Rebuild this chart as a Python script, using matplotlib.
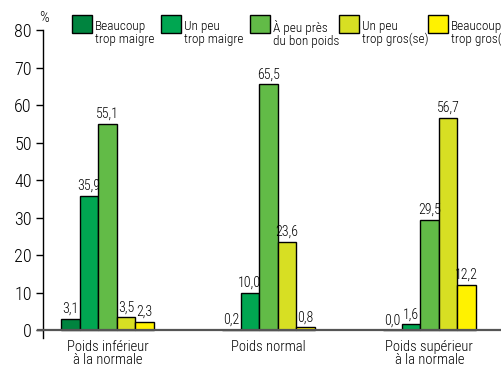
import matplotlib
matplotlib.use('Agg')
import matplotlib.pyplot as plt
from matplotlib.patches import Rectangle
import numpy as np

plt.rcParams['font.family'] = ['Roboto Condensed', 'DejaVu Sans']
plt.rcParams['font.weight'] = 'light'

groups = ["Poids inférieur\nà la normale", "Poids normal", "Poids supérieur\nà la normale"]
series = ["Beaucoup\ntrop maigre", "Un peu\ntrop maigre", "À peu près\ndu bon poids",
          "Un peu\ntrop gros(se)", "Beaucoup\ntrop gros(se)"]
values = [
    [3.1, 0.2, 0.0],
    [35.9, 10.0, 1.6],
    [55.1, 65.5, 29.5],
    [3.5, 23.6, 56.7],
    [2.3, 0.8, 12.2],
]
colors = ['#00843F', '#00A651', '#62BB47', '#D7DF23', '#FFF200']

W, H = 501, 367
fig = plt.figure(figsize=(W / 100, H / 100), dpi=100)
ax = fig.add_axes([43 / W, 1 - 338 / H, 458 / W, 308 / H])

x = np.arange(len(groups))
bw = 0.115
for i, vals in enumerate(values):
    pos = x + (i - 2) * bw
    bars = ax.bar(pos, vals, bw, color=colors[i], edgecolor='black', linewidth=1.0, zorder=2)
    for b, v in zip(bars, vals):
        ax.text(b.get_x() + b.get_width() / 2, v + 0.8, f"{v:.1f}".replace('.', ','),
                ha='center', va='bottom', fontsize=10)

ax.set_xlim(-0.40, 2.445)
ax.set_ylim(-2, 80)
ax.set_yticks(range(0, 81, 10))
ax.tick_params(axis='y', direction='out', length=5, width=1, labelsize=13, pad=3)
ax.set_xticks([])
for s in ['top', 'right', 'bottom']:
    ax.spines[s].set_visible(False)
ax.spines['left'].set_linewidth(1)
ax.axhline(0, xmin=-0.011, xmax=1, color='#555555', linewidth=1.6, clip_on=False, zorder=3)

for xi, g in zip(x, groups):
    ax.text(xi, -2.5, g, ha='center', va='top', fontsize=10.5, linespacing=0.88)

ax.annotate('%', xy=(0, 1), xycoords='axes fraction', xytext=(1, 5),
            textcoords='offset pixels', ha='center', va='bottom', fontsize=11)

# legend across the top
for i, (lab, c) in enumerate(zip(series, colors)):
    x0 = 72 + 89 * i
    fig.patches.append(Rectangle((x0 / W, 1 - 33 / H), 20 / W, 18 / H, facecolor=c,
                                 edgecolor='black', linewidth=1, transform=fig.transFigure))
    fig.text((x0 + 23) / W, 1 - 20 / H, lab, ha='left', va='top', fontsize=9.5, linespacing=1.0)

fig.savefig('out.png', dpi=100)
